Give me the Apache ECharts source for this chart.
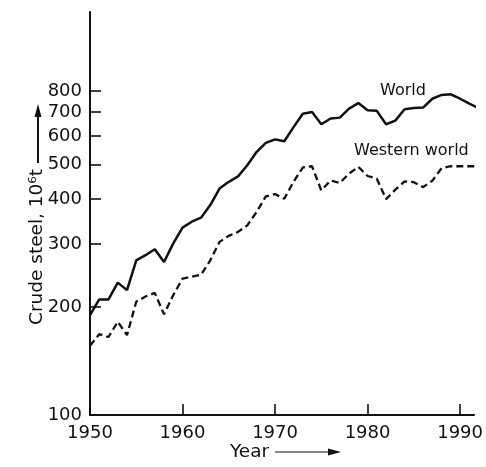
<!DOCTYPE html>
<html>
<head>
<meta charset="utf-8">
<script src="https://cdn.jsdelivr.net/npm/echarts@6/dist/echarts.min.js"></script>
<style>
  html, body { margin: 0; padding: 0; background: #fff; }
  #chart { width: 486px; height: 467px; }
</style>
</head>
<body>
<div id="chart"></div>
<script>
// Crude steel output, million tonnes per year
const years = [
  1950, 1951, 1952, 1953, 1954, 1955, 1956, 1957, 1958, 1959,
  1960, 1961, 1962, 1963, 1964, 1965, 1966, 1967, 1968, 1969,
  1970, 1971, 1972, 1973, 1974, 1975, 1976, 1977, 1978, 1979,
  1980, 1981, 1982, 1983, 1984, 1985, 1986, 1987, 1988, 1989,
  1990, 1991, 1992
];
const worldOutput = [
  190, 210, 210, 234, 223, 270, 279, 290, 267, 301,
  333, 346, 355, 385, 428, 447, 463, 497, 541, 574,
  587, 580, 635, 692, 700, 647, 671, 675, 715, 741,
  708, 705, 647, 662, 712, 718, 720, 762, 781, 784,
  762, 738, 718
];
const westernOutput = [
  156, 168, 165, 182, 167, 207, 214, 219, 191, 216,
  240, 243, 246, 270, 304, 316, 324, 338, 368, 407,
  413, 401, 447, 490, 494, 423, 451, 444, 471, 492,
  464, 456, 400, 425, 448, 446, 432, 450, 488, 494,
  494, 494, 494
];
const yTickValues = [100, 200, 300, 400, 500, 600, 700, 800];
const xTickValues = [1950, 1960, 1970, 1980, 1990];

const INK = '#111';
const tickFont = "'DejaVu Sans', sans-serif";
const textFont = "'DejaVu Sans', sans-serif";

const pairs = (vals) => years.map((y, i) => [y, vals[i]]);

const chart = echarts.init(document.getElementById('chart'), null, { renderer: 'canvas' });

chart.setOption({
  animation: false,
  backgroundColor: '#fff',
  grid: { left: 90, right: 2, top: 12, bottom: 52, containLabel: false },
  xAxis: {
    type: 'value',
    min: 1950,
    max: 1991.5,
    interval: 10,
    axisLine: { show: true, onZero: false, lineStyle: { color: INK, width: 2 } },
    axisTick: { show: true, inside: true, length: 11, customValues: xTickValues,
                lineStyle: { color: INK, width: 1.6 } },
    axisLabel: { customValues: xTickValues, margin: 9, color: INK,
                 fontFamily: tickFont, fontSize: 18,
                 formatter: (v) => String(v) },
    splitLine: { show: false }
  },
  yAxis: {
    type: 'log',
    logBase: 10,
    min: 100,
    max: 1330,
    axisLine: { show: true, onZero: false, lineStyle: { color: INK, width: 2 } },
    axisTick: { show: true, inside: true, length: 11, customValues: yTickValues,
                lineStyle: { color: INK, width: 1.6 } },
    axisLabel: { customValues: yTickValues, margin: 8, color: INK,
                 fontFamily: tickFont, fontSize: 18,
                 formatter: (v) => String(Math.round(v)) },
    splitLine: { show: false },
    minorTick: { show: false }
  },
  series: [
    {
      name: 'World',
      type: 'line',
      data: pairs(worldOutput),
      showSymbol: false,
      clip: true,
      lineStyle: { color: INK, width: 2.5 }
    },
    {
      name: 'Western world',
      type: 'line',
      data: pairs(westernOutput),
      showSymbol: false,
      clip: true,
      lineStyle: { color: INK, width: 2.3, type: [7, 4] }
    }
  ],
  graphic: [
    // series captions
    { type: 'text', x: 380, y: 91,
      style: { text: 'World', fill: INK, font: "16px " + textFont,
               align: 'left', verticalAlign: 'middle' } },
    { type: 'text', x: 354, y: 151,
      style: { text: 'Western world', fill: INK, font: "16px " + textFont,
               align: 'left', verticalAlign: 'middle' } },
    // vertical axis title with upward arrow
    { type: 'text', x: 37, y: 247, rotation: Math.PI / 2,
      style: { text: 'Crude steel, 10\u2076t', fill: INK, font: "18.5px " + textFont,
               align: 'center', verticalAlign: 'middle' } },
    { type: 'line', shape: { x1: 38, y1: 163, x2: 38, y2: 114 },
      style: { stroke: INK, lineWidth: 2 } },
    { type: 'polygon', shape: { points: [[34.5, 117], [38, 104], [41.5, 117]] },
      style: { fill: INK } },
    // horizontal axis title with rightward arrow
    { type: 'text', x: 230, y: 452,
      style: { text: 'Year', fill: INK, font: "18.5px " + textFont,
               align: 'left', verticalAlign: 'middle' } },
    { type: 'line', shape: { x1: 275, y1: 452, x2: 332, y2: 452 },
      style: { stroke: INK, lineWidth: 1.2 } },
    { type: 'polygon', shape: { points: [[328, 448.5], [341, 452], [328, 455.5]] },
      style: { fill: INK } }
  ]
});
</script>
</body>
</html>
